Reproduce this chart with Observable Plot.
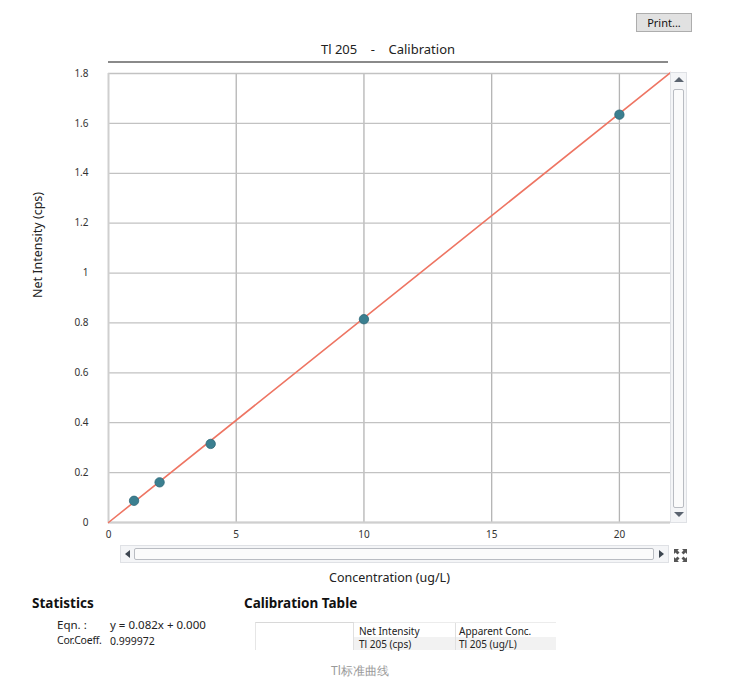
<!DOCTYPE html>
<html>
<head>
<meta charset="utf-8">
<script src="https://cdn.jsdelivr.net/npm/d3@7"></script>
<script src="https://cdn.jsdelivr.net/npm/@observablehq/plot@0.6"></script>
<style>
  html, body { margin: 0; padding: 0; background: #fff; }
  body { font-family: "Noto Sans", "Open Sans", sans-serif; color: #222; }
  #wrap { position: relative; width: 731px; height: 687px; overflow: hidden; }
  #chart { position: absolute; left: 0; top: 0; }
  .abs { position: absolute; white-space: nowrap; }
  .btn { left: 636px; top: 13px; width: 56px; height: 19px; background: #e1e1e1; border: 1px solid #adadad; box-sizing: border-box; font-size: 11px; line-height: 17px; text-align: center; color: #111; }
  .title { left: 108px; width: 560px; top: 40px; text-align: center; font-size: 13px; color: #222; }
  .titleLine { left: 108px; top: 61px; width: 560px; height: 2px; background: #8a8a8a; }
  .sb { background: #f4f5f7; border: 1px solid #dfe1e5; box-sizing: border-box; }
  .thumb { background: #fbfbfb; border: 1px solid #b9bcc2; box-sizing: border-box; border-radius: 2px; }
  .h { font-weight: bold; font-size: 13.5px; color: #111; }
  .s { font-size: 11.5px; color: #222; }
  .cell { font-size: 10px; color: #222; line-height: 12px; }
</style>
</head>
<body>
<div id="wrap">
  <div id="chart"></div>
  <div class="abs btn">Print...</div>
  <div class="abs title">Tl 205&nbsp;&nbsp;&nbsp;&nbsp;-&nbsp;&nbsp;&nbsp;&nbsp;Calibration</div>
  <div class="abs titleLine"></div>

  <!-- vertical scrollbar -->
  <div class="abs sb" style="left:670px;top:72px;width:17px;height:451px;"></div>
  <div class="abs" style="left:674px;top:77px;width:0;height:0;border-left:5px solid transparent;border-right:5px solid transparent;border-bottom:5px solid #5b6470;"></div>
  <div class="abs thumb" style="left:673px;top:89px;width:11px;height:419px;"></div>
  <div class="abs" style="left:674px;top:512px;width:0;height:0;border-left:5px solid transparent;border-right:5px solid transparent;border-top:5px solid #5b6470;"></div>

  <!-- horizontal scrollbar -->
  <div class="abs sb" style="left:120px;top:545px;width:549px;height:18px;"></div>
  <div class="abs" style="left:125px;top:550px;width:0;height:0;border-top:4px solid transparent;border-bottom:4px solid transparent;border-right:5px solid #3d4650;"></div>
  <div class="abs thumb" style="left:134px;top:548px;width:520px;height:12px;"></div>
  <div class="abs" style="left:659px;top:550px;width:0;height:0;border-top:4px solid transparent;border-bottom:4px solid transparent;border-left:5px solid #3d4650;"></div>
  <svg class="abs" style="left:673px;top:548px;" width="15" height="15" viewBox="0 0 15 15">
    <g fill="#555">
      <path d="M1 1 L6 1 L4.5 2.5 L6.5 4.5 L4.5 6.5 L2.5 4.5 L1 6 Z"/>
      <path d="M14 1 L9 1 L10.5 2.5 L8.5 4.5 L10.5 6.5 L12.5 4.5 L14 6 Z"/>
      <path d="M1 14 L6 14 L4.5 12.5 L6.5 10.5 L4.5 8.5 L2.5 10.5 L1 9 Z"/>
      <path d="M14 14 L9 14 L10.5 12.5 L8.5 10.5 L10.5 8.5 L12.5 10.5 L14 9 Z"/>
    </g>
  </svg>

  <!-- statistics -->
  <div class="abs h" style="left:32px;top:594px;">Statistics</div>
  <div class="abs s" style="left:57px;top:617px;">Eqn. :</div>
  <div class="abs s" style="left:110px;top:617px;">y = 0.082x + 0.000</div>
  <div class="abs s" style="left:57px;top:633px;font-size:10.5px;letter-spacing:-0.2px;">Cor.Coeff.</div>
  <div class="abs" style="left:110px;top:634px;font-size:10.5px;">0.999972</div>

  <!-- calibration table -->
  <div class="abs h" style="left:244px;top:594px;">Calibration Table</div>
  <div class="abs" style="left:255px;top:622px;width:99px;height:28px;border-top:1px solid #d8d8d8;border-left:1px solid #e6e6e6;border-right:1px solid #e0e0e0;box-sizing:border-box;"></div>
  <div class="abs" style="left:354px;top:637px;width:202px;height:13px;background:#f2f2f2;"></div>
  <div class="abs" style="left:455px;top:622px;width:1px;height:28px;background:#e0e0e0;"></div>
  <div class="abs" style="left:354px;top:622px;width:202px;height:1px;background:#ececec;"></div>
  <div class="abs cell" style="left:359px;top:625px;">Net Intensity</div>
  <div class="abs cell" style="left:359px;top:638px;">Tl 205 (cps)</div>
  <div class="abs cell" style="left:459px;top:625px;">Apparent Conc.</div>
  <div class="abs cell" style="left:459px;top:638px;">Tl 205 (ug/L)</div>

  <div class="abs" style="left:310px;width:100px;top:662px;text-align:center;font-size:12px;color:#9a9a9a;">Tl标准曲线</div>
</div>
<script>
// ---- data ----
const concentration = [1, 2, 4, 10, 20];            // ug/L
const netIntensity  = [0.087, 0.161, 0.315, 0.815, 1.635]; // cps
const fitX = [0, 22];        // calibration line end points
const fitY = [0, 1.804];
const xTicks = [0, 5, 10, 15, 20];
const yTicks = [0, 0.2, 0.4, 0.6, 0.8, 1, 1.2, 1.4, 1.6, 1.8];
const xLabel = "Concentration (ug/L)";
const yLabel = "Net Intensity (cps)";

const points = concentration.map((c, i) => ({c, v: netIntensity[i]}));
const fit = fitX.map((x, i) => ({x, y: fitY[i]}));

const font = '"Noto Sans", "Open Sans", sans-serif';
const chart = Plot.plot({
  width: 731,
  height: 600,
  marginLeft: 108,
  marginRight: 61,
  marginTop: 73,
  marginBottom: 78,
  style: {fontFamily: font, fontSize: "10px", color: "#333", background: "transparent", overflow: "visible"},
  x: {domain: [0, 22], ticks: xTicks, tickSize: 0, tickPadding: 8, label: null, tickFormat: d3.format("~g")},
  y: {domain: [0, 1.8], ticks: yTicks, tickSize: 0, tickPadding: 20, label: null, tickFormat: d3.format("~g")},
  marks: [
    Plot.ruleX(xTicks.filter(d => d > 0), {stroke: "#b4b4b4", strokeWidth: 1.3}),
    Plot.ruleY(yTicks, {stroke: "#c2c2c2", strokeWidth: 1.3}),
    Plot.ruleX([0], {stroke: "#cfcfcf", strokeWidth: 2}),
    Plot.ruleY([0], {stroke: "#cfcfcf", strokeWidth: 2}),
    Plot.line(fit, {x: "x", y: "y", stroke: "#ee7563", strokeWidth: 1.6}),
    Plot.dot(points, {x: "c", y: "v", r: 4.7, fill: "#3b7f90", stroke: "#2f6878", strokeWidth: 0.8}),
    Plot.axisX({ticks: xTicks, tickSize: 0, tickPadding: 8, tickFormat: d3.format("~g"), label: null}),
    Plot.axisY({ticks: yTicks, tickSize: 0, tickPadding: 20, tickFormat: d3.format("~g"), label: null}),
    Plot.text([xLabel], {frameAnchor: "bottom", dy: 59, fontSize: 12.5, fill: "#222", fontFamily: font}),
    Plot.text([yLabel], {frameAnchor: "left", dx: -71, rotate: -90, fontSize: 12.5, fill: "#222", fontFamily: font})
  ]
});
document.getElementById("chart").appendChild(chart);
</script>
</body>
</html>
